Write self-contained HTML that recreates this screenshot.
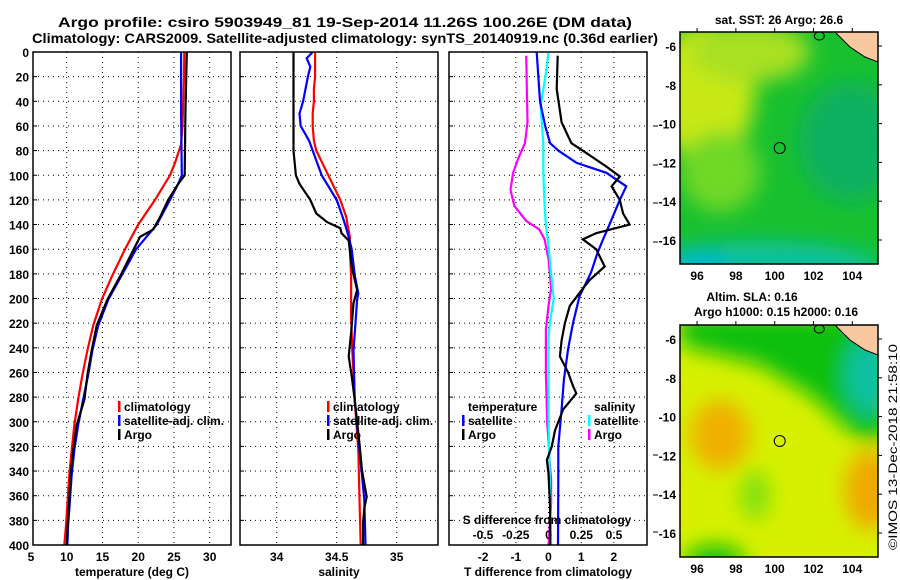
<!DOCTYPE html>
<html><head><meta charset="utf-8"><style>
html,body{margin:0;padding:0;background:#fff;}
svg{display:block;font-family:"Liberation Sans",sans-serif;font-weight:bold;}
</style></head><body>
<svg id="chart" width="900" height="580" viewBox="0 0 900 580" xmlns="http://www.w3.org/2000/svg">
<defs>
<clipPath id="cp1"><rect x="33" y="52" width="198" height="493"/></clipPath>
<clipPath id="cp2"><rect x="240" y="52" width="198" height="493"/></clipPath>
<clipPath id="cp3"><rect x="449" y="52" width="198" height="493"/></clipPath>
<clipPath id="cm1"><rect x="680" y="32" width="198" height="232"/></clipPath>
<clipPath id="cm2"><rect x="680" y="325" width="198" height="232"/></clipPath>
<filter id="blur8"><feGaussianBlur stdDeviation="10"/></filter>
<filter id="blur4"><feGaussianBlur stdDeviation="5"/></filter>
</defs>
<text x="345" y="27" font-size="14" text-anchor="middle" textLength="574" lengthAdjust="spacingAndGlyphs">Argo profile: csiro 5903949_81 19-Sep-2014 11.26S 100.26E (DM data)</text>
<text x="345" y="43" font-size="14" text-anchor="middle" textLength="626" lengthAdjust="spacingAndGlyphs">Climatology: CARS2009. Satellite-adjusted climatology: synTS_20140919.nc (0.36d earlier)</text>
<g id="g1"></g>
<g id="g2"></g>
<g id="g3"></g>
<g id="m1"></g>
<g id="m2"></g>
<text transform="translate(897,550) rotate(-90)" font-size="12" font-weight="normal" textLength="206" lengthAdjust="spacingAndGlyphs">©IMOS 13-Dec-2018 21:58:10</text>
</svg>
<script>
const NS="http://www.w3.org/2000/svg";
function mk(p,t,a){const e=document.createElementNS(NS,t);for(const k in a)e.setAttribute(k,a[k]);p.appendChild(e);return e;}
// ---- data ----
const tempDepth=[0,20,40,60,75,90,100,120,140,160,181,201,222,242,262,282,303,323,343,363,384,400];
const tempClim=[26.45,26.4,26.3,26.2,26.0,25.15,24.45,22.35,20,18.15,16.4,14.9,13.7,12.9,12.2,11.6,11.06,10.7,10.36,10.14,9.9,9.67];
const satDepth=[0,50,100,107,120,140,160,181,201,222,242,262,282,303,323,343,363,384,400];
const tempSat=[26.0,26.0,26.1,25.6,24.45,22.6,19.7,17.7,15.8,14.4,13.6,13.0,12.3,11.6,11.06,10.7,10.46,10.2,10.1];
const argoDepth=[0,50,100,107,120,134,144,150,158,181,201,222,242,262,282,303,323,343,363,384,400];
const tempArgo=[26.8,26.6,26.5,25.6,24.2,23.05,22.1,20.25,19.55,17.55,15.68,14.19,13.49,12.89,12.47,11.39,10.93,10.55,10.37,10.14,10.0];
const salDepth=[0,5,12,20,30,40,50,60,72,80,100,120,134,140,150,160,181,196,201,215,242,282,323,363,400];
const salClim=[34.32,34.32,34.32,34.32,34.31,34.31,34.30,34.30,34.31,34.33,34.43,34.53,34.58,34.59,34.61,34.61,34.62,34.62,34.62,34.62,34.63,34.65,34.68,34.69,34.70];
const salSat=[34.30,34.25,34.28,34.26,34.24,34.22,34.19,34.20,34.27,34.3,34.375,34.5,34.55,34.57,34.6,34.625,34.65,34.68,34.67,34.66,34.64,34.65,34.69,34.73,34.74];
const salArgoDepth=[0,80,100,107,120,131,138,143,147,153,174,193,204,228,247,263,282,318,339,361,370,382,400];
const salArgo=[34.14,34.14,34.16,34.19,34.28,34.33,34.42,34.53,34.54,34.6,34.625,34.67,34.64,34.62,34.6,34.625,34.65,34.69,34.71,34.75,34.73,34.72,34.72];
const dDepthSat=[0,40,60,74,80,90,98,109,120,139,152,163,179,198,220,241,260,266,290,320,347,400];
const dTSat=[-0.36,-0.26,-0.1,0.05,0.3,0.86,1.77,2.38,2.18,1.88,1.67,1.5,1.3,0.95,0.75,0.6,0.5,0.47,0.4,0.3,0.3,0.29];
const dDepthArgo=[3,30,57,74,82,93,101,109,120,131,140,147,152,160,174,185,192,206,220,234,247,260,271,277,290,307,320,331,342,369,400];
const dTArgo=[0.28,0.25,0.4,0.7,1.16,1.77,2.18,1.93,2.18,2.28,2.48,1.46,1.05,1.46,1.72,1.26,1.05,0.65,0.5,0.4,0.35,0.6,0.75,0.85,0.45,0.2,0.1,-0.05,0.0,0.05,0.05];
const dSDepthArgo=[3,57,74,86,98,112,125,137,144,152,168,179,192,206,225,247,260,301,315,334,347,366,400];
const dSArgo=[-0.17,-0.16,-0.18,-0.23,-0.27,-0.29,-0.26,-0.17,-0.07,-0.03,0,0.01,0.02,0.0,-0.02,-0.02,-0.02,-0.01,0.0,0.01,0.02,0.02,0.0];
const dSDepthSat=[0,17,44,74,98,125,141,157,179,200,220,234,271,297,347,400];
const dSSat=[0.0,-0.02,-0.06,-0.04,-0.04,-0.03,-0.02,0.0,0.02,0.04,0.01,0.0,0.0,0.0,0.01,0.02];
const depthTicks=[0,20,40,60,80,100,120,140,160,180,200,220,240,260,280,300,320,340,360,380,400];
const tTicks=[5,10,15,20,25,30];
const sTicks=[34,34.5,35];
const dTicks=[-2,-1,0,1,2];
const dSTickVals=[-0.5,-0.25,0,0.25,0.5];
const dSTickLabels=["-0.5","-0.25","0","0.25","0.5"];
const lonTicks=[96,98,100,102,104];
const latTicks=[-6,-8,-10,-12,-14,-16];
const argoLon=[100.26], argoLat=[-11.26];
// ---- scales ----
const Y=d=>52+d*493/400;
const X1=t=>66.7+(t-10)*7.15;
const X2=s=>276.7+(s-34)*120;
const X3=t=>548.5+t*32.7;
const X3s=s=>548.5+s*131;
function frame(g,x0,name){
  mk(g,'rect',{x:x0,y:52,width:198,height:493,fill:'none',stroke:'#000','stroke-width':1.5});
}
function hgrid(g,x0){
  depthTicks.forEach(d=>{if(d>0&&d<400){const l=mk(g,'line',{x1:x0,x2:x0+198,y1:Y(d),y2:Y(d),stroke:'#000','stroke-dasharray':'1,4'});}
  const tk=mk(g,'line',{x1:x0,x2:x0+4,y1:Y(d),y2:Y(d),stroke:'#000'});});
}
function vgrid(g,vals,X){vals.forEach(v=>{const l=mk(g,'line',{x1:X(v),x2:X(v),y1:52,y2:545,stroke:'#000','stroke-dasharray':'1,4'});});}
function line(g,xs,ds,X,col,clip,name){
  const pts=xs.map((v,i)=>X(v).toFixed(1)+','+Y(ds[i]).toFixed(1)).join(' ');
  const p=mk(g,'polyline',{points:pts,fill:'none',stroke:col,'stroke-width':2.2,'clip-path':'url(#'+clip+')'});
  
}
function txt(g,x,y,s,anchor,size,name){const t=mk(g,'text',{x:x,y:y,'font-size':size||12,'text-anchor':anchor||'start'});t.textContent=s;return t;}
function legend(g,x,y,col,label){
  const b=mk(g,'rect',{x:x,y:y-10,width:2.5,height:11,fill:col});
  txt(g,x+6,y,label,'start',12,'legend-entry');
}
// panel 1
const g1=document.getElementById('g1');
hgrid(g1,33);vgrid(g1,[10,15,20,25,30],X1);
depthTicks.forEach(d=>txt(g1,29,Y(d)+5,String(d),'end',12,'y-tick-label'));
line(g1,tempClim,tempDepth,X1,'#ff0000','cp1','temp-climatology-line');
line(g1,tempSat,satDepth,X1,'#0000ff','cp1','temp-satellite-line');
line(g1,tempArgo,argoDepth,X1,'#000','cp1','temp-argo-line');
frame(g1,33,'temperature-panel');
tTicks.forEach(t=>txt(g1,X1(t),561,String(t),'middle',12,'x-tick-label'));
txt(g1,132,576,'temperature (deg C)','middle',12,'x-axis-title');
legend(g1,118,411,'#ff0000','climatology');legend(g1,118,425,'#0000ff','satellite-adj. clim.');legend(g1,118,439,'#000','Argo');
// panel 2
const g2=document.getElementById('g2');
hgrid(g2,240);vgrid(g2,sTicks,X2);
line(g2,salClim,salDepth,X2,'#ff0000','cp2','sal-climatology-line');
line(g2,salSat,salDepth,X2,'#0000ff','cp2','sal-satellite-line');
line(g2,salArgo,salArgoDepth,X2,'#000','cp2','sal-argo-line');
frame(g2,240,'salinity-panel');
sTicks.forEach(s=>txt(g2,X2(s),561,String(s),'middle',12,'x-tick-label'));
txt(g2,339,576,'salinity','middle',12,'x-axis-title');
legend(g2,327,411,'#ff0000','climatology');legend(g2,327,425,'#0000ff','satellite-adj. clim.');legend(g2,327,439,'#000','Argo');
// panel 3
const g3=document.getElementById('g3');
hgrid(g3,449);vgrid(g3,dTicks,X3);
line(g3,dSArgo,dSDepthArgo,X3s,'#ff00ff','cp3','sdiff-argo-line');
line(g3,dSSat,dSDepthSat,X3s,'#00ffff','cp3','sdiff-satellite-line');
line(g3,dTSat,dDepthSat,X3,'#0000ff','cp3','tdiff-satellite-line');
line(g3,dTArgo,dDepthArgo,X3,'#000','cp3','tdiff-argo-line');
frame(g3,449,'difference-panel');
dTicks.forEach(t=>txt(g3,X3(t),561,String(t),'middle',12,'x-tick-label'));
txt(g3,548,576,'T difference from climatology','middle',12,'x-axis-title');
txt(g3,547,524,'S difference from climatology','middle',12,'s-axis-title');
dSTickVals.forEach((s,i)=>txt(g3,X3s(s),539,dSTickLabels[i],'middle',12,'s-tick-label'));
txt(g3,468,411,'temperature','start',12,'legend-title');
legend(g3,462,425,'#0000ff','satellite');legend(g3,462,439,'#000','Argo');
txt(g3,594,411,'salinity','start',12,'legend-title');
legend(g3,588,425,'#00ffff','satellite');legend(g3,588,439,'#ff00ff','Argo');
[126,165,203,242,455,495,532].forEach(y=>{const t=mk(g3,'line',{x1:653,x2:658,y1:y,y2:y,stroke:'#000'});});
// maps
function map(id,top,clip,kind){
  const g=document.getElementById(id);
  const MX=lon=>680+(lon-95.12)*19.4;
  const MY=lat=>top+14+(-6-lat)*19.4;
  const c=mk(g,'g',{'clip-path':'url(#'+clip+')'});
  if(kind==='sst'){
    mk(c,'rect',{x:680,y:top,width:198,height:232,fill:'#18c030'});
    const f=mk(c,'g',{filter:'url(#blur8)'});
    mk(f,'ellipse',{cx:705,cy:top+60,rx:50,ry:70,fill:'#c8e818'});
    mk(f,'ellipse',{cx:750,cy:top+20,rx:60,ry:30,fill:'#a8e020'});
    mk(f,'ellipse',{cx:720,cy:top+140,rx:40,ry:40,fill:'#70d828'});
    mk(f,'ellipse',{cx:850,cy:top+110,rx:50,ry:60,fill:'#10b060'});
    mk(f,'ellipse',{cx:760,cy:top+235,rx:120,ry:25,fill:'#10c0a0'});
    mk(f,'ellipse',{cx:700,cy:top+240,rx:30,ry:20,fill:'#00b8d0'});
  } else {
    mk(c,'rect',{x:680,y:top,width:198,height:232,fill:'#d6f000'});
    const f=mk(c,'g',{filter:'url(#blur8)'});
    mk(f,'polygon',{points:`680,${top-10} 890,${top-10} 890,${top+115} 860,${top+115} 810,${top+70} 760,${top+40} 680,${top+20}`,fill:'#10c010'});
    mk(f,'ellipse',{cx:870,cy:top+50,rx:25,ry:40,fill:'#10c0a0'});
    mk(f,'ellipse',{cx:720,cy:top+110,rx:30,ry:35,fill:'#f0b000'});
    mk(f,'ellipse',{cx:870,cy:top+165,rx:25,ry:40,fill:'#f0a800'});
    mk(f,'ellipse',{cx:755,cy:top+170,rx:15,ry:25,fill:'#80e010'});
    mk(f,'ellipse',{cx:715,cy:top+235,rx:30,ry:15,fill:'#10c010'});
  }
  mk(c,'polygon',{points:`835,${top} 878,${top} 878,${top+30} 865,${top+25} 850,${top+15}`,fill:'#f8c8a0',stroke:'#000'});
  mk(c,'ellipse',{cx:MX(102.3),cy:top+4,rx:5,ry:4,fill:'none',stroke:'#000'});
  const ci=mk(g,'circle',{cx:MX(argoLon[0]),cy:MY(argoLat[0]),r:5.5,fill:'none',stroke:'#000'});
  
  const fr=mk(g,'rect',{x:680,y:top,width:198,height:232,fill:'none',stroke:'#000','stroke-width':1.5});
  
  lonTicks.forEach(l=>{txt(g,MX(l),top+248,String(l),'middle',12,'lon-tick-label');
    const t=mk(g,'line',{x1:MX(l),x2:MX(l),y1:top,y2:top-4,stroke:'#000'});});
  latTicks.forEach(l=>{txt(g,676,MY(l)+5,String(l),'end',12,'lat-tick-label');
    const t=mk(g,'line',{x1:878,x2:882,y1:MY(l),y2:MY(l),stroke:'#000'});});
}
map('m1',32,'cm1','sst');
map('m2',325,'cm2','sla');
txt(document.getElementById('m1'),779,24,'sat. SST: 26 Argo: 26.6','middle',12,'sst-map-title');
txt(document.getElementById('m2'),752,301,'Altim. SLA: 0.16','middle',12,'sla-map-title');
txt(document.getElementById('m2'),776,316,'Argo h1000: 0.15 h2000: 0.16','middle',12,'sla-map-subtitle');
</script>
</body></html>
